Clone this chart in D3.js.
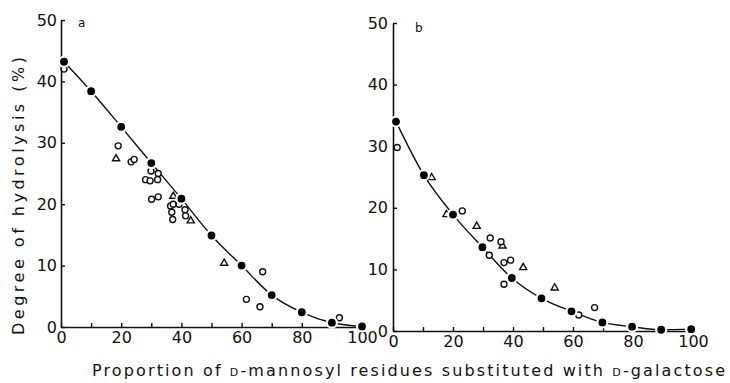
<!DOCTYPE html>
<html>
<head>
<meta charset="utf-8">
<script src="https://cdn.jsdelivr.net/npm/d3@7"></script>
<style>
  html, body { margin: 0; padding: 0; background: #fff; }
  svg { display: block; }
  text { font-family: "DejaVu Sans", sans-serif; fill: #111; }
</style>
</head>
<body>
<svg id="chart" width="730" height="383"></svg>
<script>
// Panel a: fitted series (filled circles joined by the curve)
const fitA = [[1, 43.2], [10, 38.4], [20, 32.6], [30, 26.7], [40, 20.9], [50, 14.9],
              [60, 10.0], [70, 5.2], [80, 2.4], [90, 0.7], [100, 0.1]];
// Panel a: measured samples, open circles
const circA = [[1, 42.0], [19, 29.5], [23.3, 26.9], [24.3, 27.3], [29.9, 25.4], [32.3, 25.0],
               [28.1, 24.0], [29.6, 23.8], [32.1, 24.0], [30.1, 20.8], [32.3, 21.2],
               [36.4, 19.7], [37.3, 20.0], [39.2, 20.0], [36.8, 18.7], [41.2, 19.1],
               [41.4, 18.1], [37.1, 17.5], [67, 9.0], [61.6, 4.5], [66.1, 3.3], [92.5, 1.5]];
// Panel a: measured samples, open triangles
const triA = [[18.3, 27.4], [37.3, 21.3], [43.1, 17.3], [54.2, 10.4]];

// Panel b: fitted series
const fitB = [[1, 34.0], [10.3, 25.3], [20, 18.9], [29.8, 13.6], [39.6, 8.6], [49.5, 5.3],
              [59.5, 3.2], [69.8, 1.4], [79.7, 0.7], [89.4, 0.2], [99.4, 0.3]];
// Panel b: open circles
const circB = [[1.4, 29.8], [23.1, 19.5], [32.4, 15.1], [32.1, 12.3], [36.0, 14.5],
               [37.0, 11.1], [39.2, 11.5], [37.0, 7.6], [61.9, 2.6], [67.2, 3.8]];
// Panel b: open triangles
const triB = [[12.9, 24.9], [17.8, 18.9], [27.9, 17.0], [36.5, 13.8], [43.4, 10.3], [53.9, 7.0]];

const xTicks = d3.range(0, 101, 10);
const xLabels = [0, 20, 40, 60, 80, 100];
const yTicks = [0, 10, 20, 30, 40, 50];

const svg = d3.select("#chart");

function panel(opts) {
  const x = d3.scaleLinear().domain([0, 100]).range(opts.xr);
  const y = d3.scaleLinear().domain([0, 50]).range(opts.yr);
  const g = svg.append("g");

  const yAxis = d3.axisLeft(y).tickValues(yTicks).tickSizeInner(-4).tickSizeOuter(0)
    .tickPadding(opts.ypad).tickFormat(d3.format("d"));
  const xAxis = d3.axisBottom(x).tickValues(xTicks).tickSizeInner(-4).tickSizeOuter(0)
    .tickPadding(5).tickFormat(d => xLabels.includes(d) ? d : "");

  const gy = g.append("g").attr("transform", `translate(${opts.xr[0]},0)`).call(yAxis);
  const gx = g.append("g").attr("transform", `translate(0,${opts.yr[0]})`).call(xAxis);
  [gx, gy].forEach(a => {
    a.select(".domain").attr("stroke", "#111").attr("stroke-width", 1.6);
    a.selectAll(".tick line").attr("stroke", "#111").attr("stroke-width", 1.4);
    a.selectAll(".tick text").style("font-size", "16px").attr("fill", "#111")
      .style("font-family", "DejaVu Sans, sans-serif");
  });
  gy.selectAll(".tick text").attr("dy", "0.32em");

  // fitted curve
  g.append("path")
    .datum(opts.fit)
    .attr("fill", "none").attr("stroke", "#111").attr("stroke-width", 1.4)
    .attr("d", d3.line().x(d => x(d[0])).y(d => y(d[1])).curve(d3.curveMonotoneX));

  // open triangles
  g.selectAll(".tri").data(opts.tri).join("path")
    .attr("transform", d => `translate(${x(d[0])},${y(d[1])})`)
    .attr("d", d3.symbol(d3.symbolTriangle, 22)())
    .attr("fill", "#fff").attr("stroke", "#111").attr("stroke-width", 1.4);

  // open circles
  g.selectAll(".oc").data(opts.circ).join("circle")
    .attr("cx", d => x(d[0])).attr("cy", d => y(d[1])).attr("r", 3)
    .attr("fill", "#fff").attr("stroke", "#111").attr("stroke-width", 1.4);

  // filled circles, white halo leaves a gap in the curve
  g.selectAll(".fc").data(opts.fit).join("circle")
    .attr("cx", d => x(d[0])).attr("cy", d => y(d[1])).attr("r", 5)
    .attr("fill", "#000").attr("stroke", "#fff").attr("stroke-width", 2.2);

  g.append("text").attr("x", opts.tag[0]).attr("y", opts.tag[1])
    .style("font-size", "12px").text(opts.name);
}

panel({ xr: [61, 362], yr: [327, 20], fit: fitA, circ: circA, tri: triA,
        ypad: 4, tag: [78, 27], name: "a" });
panel({ xr: [393, 693], yr: [331, 23], fit: fitB, circ: circB, tri: triB,
        ypad: 5, tag: [415, 32], name: "b" });

// y-axis title
svg.append("text")
  .attr("transform", "translate(24,196) rotate(-90)")
  .attr("text-anchor", "middle")
  .attr("textLength", 278).attr("lengthAdjust", "spacing")
  .style("font-size", "16px")
  .text("Degree of hydrolysis (%)");

// x-axis title with small-capital D prefixes
const xt = svg.append("text")
  .attr("x", 92).attr("y", 376)
  .attr("textLength", 633).attr("lengthAdjust", "spacing")
  .style("font-size", "16px");
xt.append("tspan").text("Proportion of ");
xt.append("tspan").style("font-size", "11px").text("D");
xt.append("tspan").text("-mannosyl residues substituted with ");
xt.append("tspan").style("font-size", "11px").text("D");
xt.append("tspan").text("-galactose");
</script>
</body>
</html>
